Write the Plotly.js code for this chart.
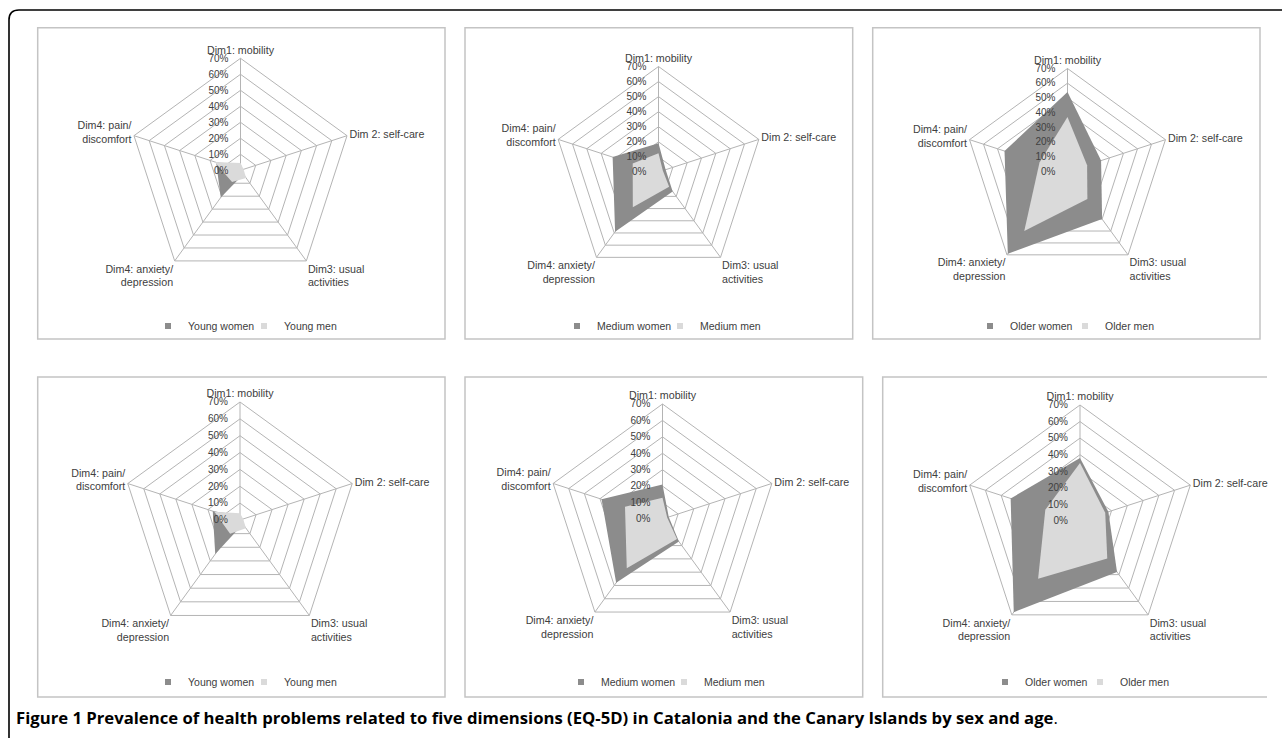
<!DOCTYPE html>
<html><head><meta charset="utf-8">
<script src="https://cdn.plot.ly/plotly-3.0.1.min.js"></script>
<style>html,body{margin:0;padding:0;background:#fff;}#chart{width:1282px;height:738px;}</style>
</head><body><div id="chart"></div>
<script>
// ---- data ----
const dimensions = ['Dim1: mobility', 'Dim 2: self-care', 'Dim3: usual activities', 'Dim4: anxiety/ depression', 'Dim4: pain/ discomfort'];
const dimensionLabels = ['Dim1: mobility', 'Dim 2: self-care', 'Dim3: usual<br>activities', 'Dim4: anxiety/<br>depression', 'Dim4: pain/<br>discomfort'];
const radialTicks = [0, 0.1, 0.2, 0.3, 0.4, 0.5, 0.6, 0.7];
const radialTickLabels = ['0%', '10%', '20%', '30%', '40%', '50%', '60%', '70%'];
const womenNames = ['Young women', 'Medium women', 'Older women', 'Young women', 'Medium women', 'Older women'];
const menNames = ['Young men', 'Medium men', 'Older men', 'Young men', 'Medium men', 'Older men'];

const youngWomenTop  = [0.04, 0.015, 0.03, 0.21, 0.16];
const youngMenTop    = [0.045, 0.02, 0.06, 0.09, 0.17];
const mediumWomenTop = [0.19, 0.05, 0.16, 0.49, 0.32];
const mediumMenTop   = [0.125, 0.03, 0.12, 0.29, 0.18];
const olderWomenTop  = [0.54, 0.24, 0.40, 0.69, 0.45];
const olderMenTop    = [0.37, 0.14, 0.23, 0.50, 0.20];
const youngWomenBottom  = [0.03, 0.01, 0.03, 0.25, 0.17];
const youngMenBottom    = [0.04, 0.02, 0.06, 0.10, 0.16];
const mediumWomenBottom = [0.21, 0.04, 0.17, 0.48, 0.39];
const mediumMenBottom   = [0.13, 0.03, 0.15, 0.37, 0.24];
const olderWomenBottom  = [0.38, 0.18, 0.38, 0.68, 0.44];
const olderMenBottom    = [0.35, 0.16, 0.28, 0.43, 0.22];

const womenSeries = [youngWomenTop, mediumWomenTop, olderWomenTop, youngWomenBottom, mediumWomenBottom, olderWomenBottom];
const menSeries = [youngMenTop, mediumMenTop, olderMenTop, youngMenBottom, mediumMenBottom, olderMenBottom];
const caption = 'Figure 1 Prevalence of health problems related to five dimensions (EQ-5D) in Catalonia and the Canary Islands by sex and age';

// ---- layout geometry (pixels) ----
const W = 1282, H = 738;
const panelBoxes = [
  [37.7, 27.7, 445, 339], [465, 27.7, 852.7, 339], [872.7, 27.7, 1260, 339],
  [37.7, 377, 445, 697], [465, 377, 862.7, 697], [882.7, 377, 1267, 697]
];
const radarGeom = [
  [240.5, 170.3, 112], [658.5, 172, 105.5], [1067.5, 171.5, 103],
  [240, 520, 118], [662.5, 519, 115], [1080, 521, 116]
];
const legendY = [326, 326, 326, 682, 682, 682];
const legendCenterX = [244, 660, 1065, 244, 664, 1080];
const legendEntryWidth = [51, 58, 50, 51, 58, 50];

const fam = '"Liberation Sans", Arial, Helvetica, sans-serif';
const dark = '#8c8c8c', light = '#dadada', grid = '#b4b4b4', txt = '#404040';
const px = x => x / W, py = y => 1 - y / H;

const traces = [];
const layout = {
  width: W, height: H, margin: {l: 0, r: 0, t: 0, b: 0},
  paper_bgcolor: '#ffffff', showlegend: true, shapes: [], annotations: []
};

// outer frame (top + left, rounded corner)
layout.shapes.push({
  type: 'path', xref: 'paper', yref: 'paper', layer: 'below',
  path: `M ${px(9)},${py(740)} L ${px(9)},${py(20)} Q ${px(9)},${py(10)} ${px(19)},${py(10)} L ${px(1284)},${py(10)}`,
  line: {color: '#000', width: 1.6}
});

panelBoxes.forEach((b, i) => {
  const [x0, y0, x1, y1] = b;
  const open = i === 5;
  layout.shapes.push({
    type: 'path', xref: 'paper', yref: 'paper', layer: 'below',
    path: open
      ? `M ${px(x1)},${py(y0)} L ${px(x0)},${py(y0)} L ${px(x0)},${py(y1)} L ${px(x1)},${py(y1)}`
      : `M ${px(x0)},${py(y0)} L ${px(x1)},${py(y0)} L ${px(x1)},${py(y1)} L ${px(x0)},${py(y1)} Z`,
    fillcolor: open ? 'rgba(0,0,0,0)' : '#ffffff',
    line: {color: '#c4c4c4', width: 1.5}
  });
});

for (let i = 0; i < 6; i++) {
  const id = i === 0 ? 'polar' : 'polar' + (i + 1);
  const lg = i === 0 ? 'legend' : 'legend' + (i + 1);
  const [cx, cy, R] = radarGeom[i];
  layout[id] = {
    domain: {x: [px(cx - R), px(cx + R)], y: [py(cy + R), py(cy - R)]},
    gridshape: 'linear', bgcolor: 'rgba(0,0,0,0)',
    radialaxis: {
      range: [0, 0.7], tickmode: 'array', tickvals: radialTicks, ticktext: radialTickLabels,
      ticks: 'outside', ticklen: 8, tickcolor: 'rgba(0,0,0,0)', showline: false, angle: 90,
      side: 'counterclockwise', tickangle: 90,
      gridcolor: grid, gridwidth: 1, layer: 'above traces',
      tickfont: {size: 10, color: txt, family: fam}
    },
    angularaxis: {
      type: 'category', categoryarray: dimensions, direction: 'clockwise', rotation: 90,
      tickmode: 'array', tickvals: dimensions, ticktext: dimensionLabels, ticks: '',
      showline: true, linecolor: grid, linewidth: 1, gridcolor: grid, gridwidth: 1,
      tickfont: {size: 10.7, color: txt, family: fam}
    }
  };
  traces.push({
    type: 'scatterpolar', subplot: id, r: womenSeries[i], theta: dimensions,
    mode: 'lines', fill: 'toself', fillcolor: dark, line: {width: 0, color: dark},
    showlegend: false, hoverinfo: 'skip', name: womenNames[i]
  });
  traces.push({
    type: 'scatterpolar', subplot: id, r: menSeries[i], theta: dimensions,
    mode: 'lines', fill: 'toself', fillcolor: light, line: {width: 0, color: light},
    showlegend: false, hoverinfo: 'skip', name: menNames[i]
  });
  traces.push({
    type: 'scatterpolar', subplot: id, r: [null], theta: [dimensions[0]], mode: 'markers',
    marker: {symbol: 'square', size: 6, color: dark}, name: womenNames[i], legend: lg, hoverinfo: 'skip'
  });
  traces.push({
    type: 'scatterpolar', subplot: id, r: [null], theta: [dimensions[0]], mode: 'markers',
    marker: {symbol: 'square', size: 6, color: light}, name: menNames[i], legend: lg, hoverinfo: 'skip'
  });
  layout[lg] = {
    orientation: 'h', x: px(legendCenterX[i]), xanchor: 'center', y: py(legendY[i]), yanchor: 'middle',
    entrywidth: legendEntryWidth[i], entrywidthmode: 'pixels',
    font: {size: 10.5, color: txt, family: fam}, bgcolor: 'rgba(0,0,0,0)', itemclick: false
  };
}

layout.annotations.push({
  xref: 'paper', yref: 'paper', x: px(14), y: py(717), xanchor: 'left', yanchor: 'middle',
  showarrow: false, text: '<b>' + caption + '</b>.',
  font: {family: '"Open Sans", "Noto Sans", sans-serif', size: 16.7, color: '#000'}
});

Plotly.newPlot('chart', traces, layout, {staticPlot: true});
</script>
</body></html>
